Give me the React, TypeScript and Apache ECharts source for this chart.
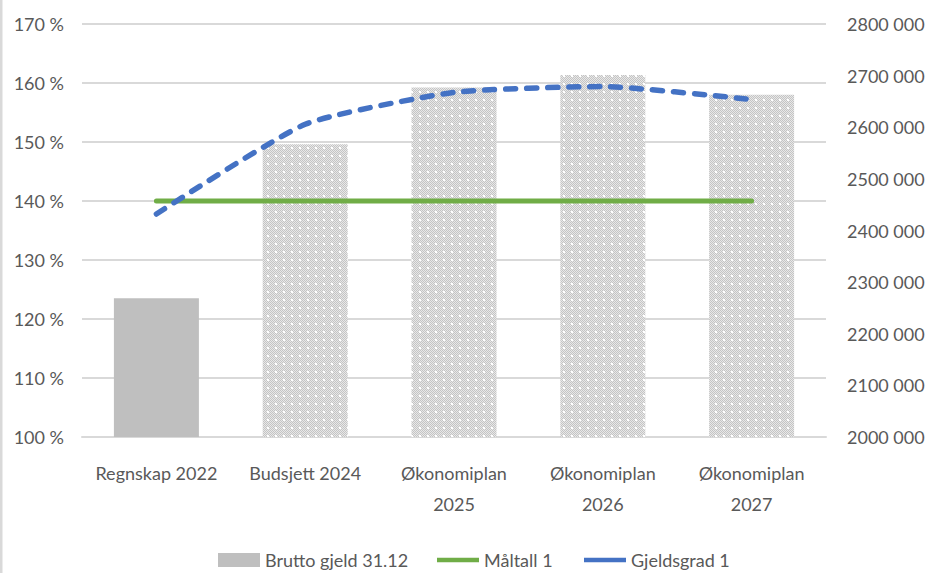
import React, { useEffect, useRef } from "react";
import * as echarts from "echarts";

const categories = [
  "Regnskap 2022",
  "Budsjett 2024",
  "Økonomiplan\n2025",
  "Økonomiplan\n2026",
  "Økonomiplan\n2027",
];
const bruttoGjeld = [2269000, 2567000, 2677000, 2701000, 2663000];
const maltall = [140, 140, 140, 140, 140];
const gjeldsgrad = [137.8, 153.0, 158.4, 159.4, 157.2];
const leftTicks = { min: 100, max: 170, interval: 10 };
const rightTicks = { min: 2000000, max: 2800000, interval: 100000 };

const FONT = "Lato, 'Liberation Sans', sans-serif";
const FS = 18;
const TEXT = "#595959";

function makePattern(): string {
  const c = document.createElement("canvas");
  c.width = 8;
  c.height = 8;
  const ctx = c.getContext("2d")!;
  ctx.fillStyle = "#e8e8e8";
  ctx.fillRect(0, 0, 8, 8);
  ctx.fillStyle = "#c4c4c4";
  for (let y = 0; y < 8; y++) {
    for (let x = 0; x < 8; x++) {
      if ((x + y) % 2 === 0) ctx.fillRect(x, y, 1, 1);
    }
  }
  ctx.fillStyle = "#ffffff";
  ctx.fillRect(3, 3, 2, 2);
  return c.toDataURL();
}

export default function App() {
  const ref = useRef<HTMLDivElement>(null);
  useEffect(() => {
    if (!ref.current) return;
    const chart = echarts.init(ref.current, undefined, { renderer: "svg" });
    const pattern = makePattern();
    const fmtRight = (v: number) =>
      `${Math.floor(v / 1000000)}${String(Math.floor((v % 1000000) / 1000)).padStart(3, "0")} ${String(v % 1000).padStart(3, "0")}`;
    const lineIcon = "path://M0,0 L42,0 L42,4.5 L0,4.5 Z";
    const legendBase = {
      top: 551,
      padding: 0,
      itemWidth: 42,
      itemHeight: 14,
      textStyle: { color: TEXT, fontSize: FS, fontFamily: FONT },
    };
    chart.setOption({
      animation: false,
      backgroundColor: "#ffffff",
      textStyle: { fontFamily: FONT },
      graphic: [
        {
          type: "rect",
          left: 0,
          top: 0,
          shape: { width: 2.5, height: 573 },
          style: { fill: "#d9d9d9" },
        },
      ],
      grid: {
        left: 82,
        right: 99,
        top: 24,
        bottom: 136,
        containLabel: false,
        outerBoundsMode: "none",
      },
      legend: [
        {
          ...legendBase,
          left: 218,
          data: [{ name: "Brutto gjeld 31.12", icon: "rect" }],
        },
        {
          ...legendBase,
          left: 437,
          data: [{ name: "Måltall 1", icon: lineIcon, itemStyle: { color: "#70ad47" } }],
        },
        {
          ...legendBase,
          left: 584,
          data: [{ name: "Gjeldsgrad 1", icon: lineIcon, itemStyle: { color: "#4472c4" } }],
        },
      ],
      xAxis: {
        type: "category",
        data: categories,
        axisLine: { show: true, lineStyle: { color: "#d9d9d9", width: 2 } },
        axisTick: { show: false },
        axisLabel: {
          color: TEXT,
          fontSize: FS,
          fontFamily: FONT,
          lineHeight: 31,
          margin: 20,
          interval: 0,
        },
      },
      yAxis: [
        {
          type: "value",
          min: leftTicks.min,
          max: leftTicks.max,
          interval: leftTicks.interval,
          axisLine: { show: false },
          axisTick: { show: false },
          splitLine: { lineStyle: { color: "#d9d9d9", width: 2 } },
          axisLabel: {
            color: TEXT,
            fontSize: FS,
            fontFamily: FONT,
            margin: 18,
            formatter: (v: number) => `${v} %`,
          },
        },
        {
          type: "value",
          min: rightTicks.min,
          max: rightTicks.max,
          interval: rightTicks.interval,
          axisLine: { show: false },
          axisTick: { show: false },
          splitLine: { show: false },
          axisLabel: {
            color: TEXT,
            fontSize: FS,
            fontFamily: FONT,
            margin: 21,
            formatter: fmtRight,
          },
        },
      ],
      series: [
        {
          name: "Brutto gjeld 31.12",
          type: "bar",
          yAxisIndex: 1,
          barWidth: 85,
          itemStyle: { color: "#bfbfbf" },
          data: bruttoGjeld.map((v, i) =>
            i === 0
              ? { value: v }
              : { value: v, itemStyle: { color: { image: pattern, repeat: "repeat" } } }
          ),
          z: 1,
        },
        {
          name: "Måltall 1",
          type: "line",
          yAxisIndex: 0,
          data: maltall,
          symbol: "none",
          lineStyle: { color: "#70ad47", width: 5, cap: "round" },
          itemStyle: { color: "#70ad47" },
          z: 3,
        },
        {
          name: "Gjeldsgrad 1",
          type: "line",
          yAxisIndex: 0,
          data: gjeldsgrad,
          symbol: "none",
          smooth: 0.18,
          lineStyle: { color: "#4472c4", width: 5.5, type: [10, 11], cap: "round" },
          itemStyle: { color: "#4472c4" },
          z: 4,
        },
      ],
    });
    return () => chart.dispose();
  }, []);
  return (
    <div
      ref={ref}
      style={{ position: "absolute", left: 0, top: 0, width: 925, height: 573 }}
    />
  );
}
